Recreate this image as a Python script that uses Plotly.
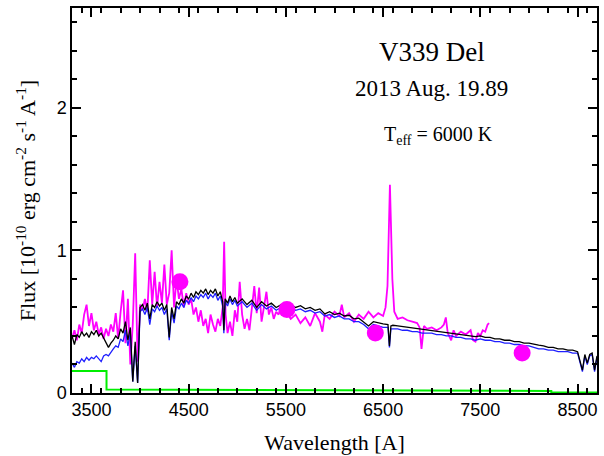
import plotly.graph_objects as go

# model spectra (black: Teff=6000 K model, blue: second model), shared wavelength grid
model_wl = [
    3300, 3325, 3350, 3375, 3400, 3425, 3450, 3475, 3500, 3525, 3550, 3575, 3600, 3625,
    3650, 3675, 3700, 3725, 3750, 3775, 3800, 3825, 3850, 3875, 3900, 3925, 3950, 3975,
    4000, 4025, 4050, 4075, 4100, 4125, 4150, 4175, 4200, 4225, 4250, 4275, 4300, 4325,
    4350, 4375, 4400, 4425, 4450, 4475, 4500, 4525, 4550, 4575, 4600, 4625, 4650, 4675,
    4700, 4725, 4750, 4775, 4800, 4825, 4850, 4862, 4875, 4900, 4925, 4950, 4975, 5000,
    5050, 5100, 5150, 5200, 5250, 5300, 5350, 5400, 5450, 5500, 5550, 5600, 5650, 5700,
    5750, 5800, 5850, 5900, 5950, 6000, 6050, 6100, 6150, 6200, 6250, 6300, 6350, 6400,
    6450, 6500, 6550, 6565, 6580, 6600, 6650, 6700, 6750, 6800, 6850, 6900, 6950, 7000,
    7050, 7100, 7150, 7200, 7250, 7300, 7350, 7400, 7450, 7500, 7550, 7600, 7650, 7700,
    7750, 7800, 7850, 7900, 7950, 8000, 8050, 8100, 8150, 8200, 8250, 8300, 8350, 8400,
    8450, 8500, 8550, 8575, 8600, 8625, 8650, 8675, 8700,
]
model_black = [
    0.40, 0.34, 0.41, 0.39, 0.43, 0.40, 0.42, 0.39, 0.43, 0.41, 0.44, 0.40, 0.42, 0.39,
    0.36, 0.32, 0.35, 0.37, 0.40, 0.38, 0.45, 0.42, 0.50, 0.37, 0.46, 0.08, 0.36, 0.07,
    0.60, 0.62, 0.58, 0.63, 0.52, 0.62, 0.60, 0.64, 0.61, 0.63, 0.58, 0.62, 0.39, 0.60,
    0.52, 0.64, 0.62, 0.66, 0.63, 0.68, 0.66, 0.70, 0.67, 0.71, 0.69, 0.72, 0.70, 0.73,
    0.69, 0.72, 0.70, 0.73, 0.68, 0.71, 0.64, 0.44, 0.66, 0.63, 0.68, 0.64, 0.67, 0.63,
    0.66, 0.62, 0.65, 0.60, 0.64, 0.61, 0.63, 0.60, 0.62, 0.61, 0.62, 0.60, 0.612, 0.59,
    0.60, 0.58, 0.59, 0.555, 0.57, 0.55, 0.56, 0.54, 0.545, 0.52, 0.525, 0.50, 0.47, 0.50,
    0.49, 0.485, 0.48, 0.33, 0.47, 0.475, 0.47, 0.465, 0.46, 0.455, 0.45, 0.445, 0.44, 0.44,
    0.435, 0.43, 0.425, 0.42, 0.415, 0.41, 0.405, 0.40, 0.395, 0.40, 0.39, 0.39, 0.38, 0.38,
    0.37, 0.37, 0.36, 0.36, 0.35, 0.35, 0.34, 0.335, 0.33, 0.32, 0.32, 0.31, 0.31, 0.30,
    0.30, 0.29, 0.16, 0.27, 0.21, 0.27, 0.28, 0.16, 0.26,
]
model_blue = [
    0.21, 0.18, 0.22, 0.21, 0.24, 0.22, 0.25, 0.23, 0.25, 0.24, 0.26, 0.24, 0.22, 0.26,
    0.27, 0.26, 0.29, 0.31, 0.33, 0.32, 0.38, 0.36, 0.44, 0.33, 0.42, 0.08, 0.33, 0.07,
    0.57, 0.59, 0.55, 0.60, 0.48, 0.59, 0.57, 0.61, 0.58, 0.60, 0.55, 0.59, 0.37, 0.57,
    0.49, 0.61, 0.59, 0.63, 0.60, 0.65, 0.63, 0.67, 0.64, 0.68, 0.66, 0.69, 0.67, 0.70,
    0.66, 0.69, 0.67, 0.70, 0.65, 0.68, 0.61, 0.42, 0.64, 0.61, 0.66, 0.62, 0.65, 0.61,
    0.64, 0.60, 0.63, 0.58, 0.62, 0.59, 0.61, 0.58, 0.60, 0.59, 0.60, 0.58, 0.59, 0.57,
    0.58, 0.56, 0.57, 0.54, 0.55, 0.53, 0.54, 0.52, 0.52, 0.50, 0.50, 0.48, 0.45, 0.48,
    0.47, 0.46, 0.46, 0.32, 0.45, 0.45, 0.45, 0.44, 0.44, 0.43, 0.43, 0.42, 0.42, 0.42,
    0.41, 0.41, 0.40, 0.40, 0.39, 0.39, 0.38, 0.38, 0.37, 0.38, 0.37, 0.37, 0.36, 0.36,
    0.35, 0.35, 0.34, 0.34, 0.33, 0.33, 0.32, 0.31, 0.31, 0.30, 0.30, 0.29, 0.29, 0.29,
    0.28, 0.28, 0.15, 0.26, 0.20, 0.26, 0.27, 0.15, 0.25,
]

# observed spectrum (magenta)
obs_wl = [
    3300, 3325, 3350, 3375, 3400, 3425, 3450, 3475, 3500, 3525, 3550, 3575, 3600, 3625,
    3650, 3675, 3700, 3725, 3750, 3775, 3800, 3825, 3850, 3875, 3900, 3925, 3950, 3975,
    4000, 4025, 4050, 4075, 4100, 4125, 4150, 4175, 4200, 4225, 4250, 4275, 4300, 4325,
    4350, 4375, 4400, 4425, 4450, 4475, 4500, 4525, 4550, 4575, 4600, 4625, 4650, 4675,
    4700, 4725, 4750, 4775, 4800, 4825, 4850, 4865, 4880, 4900, 4925, 4950, 4975, 5000,
    5025, 5050, 5075, 5100, 5125, 5150, 5175, 5200, 5225, 5250, 5275, 5300, 5325, 5350,
    5375, 5400, 5425, 5450, 5500, 5550, 5600, 5650, 5700, 5750, 5800, 5850, 5875, 5900,
    5950, 6000, 6050, 6075, 6100, 6150, 6200, 6250, 6300, 6350, 6400, 6450, 6500, 6525,
    6545, 6560, 6570, 6580, 6595, 6615, 6650, 6700, 6750, 6800, 6850, 6875, 6895, 6920,
    6950, 7000, 7050, 7100, 7125, 7145, 7165, 7200, 7225, 7250, 7300, 7350, 7400, 7425,
    7450, 7475, 7500, 7525, 7550, 7575, 7590,
]
obs_flux = [
    0.38, 0.44, 0.37, 0.48, 0.42, 0.55, 0.62, 0.47, 0.56, 0.44, 0.50, 0.41, 0.46, 0.38,
    0.45, 0.40, 0.48, 0.43, 0.56, 0.38, 0.57, 0.72, 0.35, 0.66, 0.20, 0.48, 0.98, 0.22,
    0.62, 0.58, 0.66, 0.57, 0.93, 0.62, 0.85, 0.60, 0.78, 0.63, 0.90, 0.62, 0.70, 1.00,
    0.60, 0.80, 0.66, 0.73, 0.60, 0.70, 0.62, 0.66, 0.55, 0.60, 0.50, 0.58, 0.47, 0.52,
    0.42, 0.55, 0.48, 0.43, 0.52, 0.47, 0.60, 1.06, 0.55, 0.42, 0.50, 0.40, 0.58, 0.50,
    0.78, 0.55, 0.45, 0.52, 0.44, 0.60, 0.75, 0.56, 0.74, 0.50, 0.62, 0.71, 0.55, 0.60,
    0.52, 0.57, 0.55, 0.60, 0.57, 0.52, 0.55, 0.49, 0.53, 0.47, 0.56, 0.50, 0.43, 0.55,
    0.52, 0.57, 0.54, 0.62, 0.53, 0.56, 0.50, 0.55, 0.52, 0.57, 0.53, 0.56, 0.54, 0.60,
    0.75, 1.20, 1.46, 1.20, 0.80, 0.57, 0.52, 0.53, 0.51, 0.50, 0.49, 0.46, 0.31, 0.47,
    0.45, 0.46, 0.44, 0.46, 0.48, 0.53, 0.42, 0.37, 0.44, 0.40, 0.43, 0.41, 0.44, 0.37,
    0.36, 0.42, 0.40, 0.44, 0.43, 0.48, 0.49,
]

# broadband photometry (B, V, Rc, Ic)
phot_wl = [4410, 5510, 6420, 7930]
phot_flux = [0.78, 0.585, 0.42, 0.28]

# green step curve
green_wl = [3300, 3655, 3655, 4500, 6000, 8230, 8230, 8700]
green_flux = [0.155, 0.155, 0.025, 0.022, 0.018, 0.014, 0.003, 0.003]

SERIF = "Times New Roman"
SANS = "Arial"

fig = go.Figure()

fig.add_trace(go.Scatter(x=obs_wl, y=obs_flux, mode="lines",
                         line=dict(color="#ff00ff", width=1.8)))
fig.add_trace(go.Scatter(x=model_wl, y=model_blue, mode="lines",
                         line=dict(color="#1f1fff", width=1.3)))
fig.add_trace(go.Scatter(x=model_wl, y=model_black, mode="lines",
                         line=dict(color="black", width=1.3)))
fig.add_trace(go.Scatter(x=phot_wl, y=phot_flux, mode="markers",
                         marker=dict(color="#ff00ff", size=17)))
fig.add_trace(go.Scatter(x=green_wl, y=green_flux, mode="lines",
                         line=dict(color="#00ee00", width=2)))

fig.update_xaxes(
    range=[3300, 8700], dtick=1000, tick0=3500,
    showline=True, linecolor="black", linewidth=1.5, mirror="allticks",
    ticks="inside", ticklen=9, tickwidth=1.5, tickcolor="black",
    showgrid=False, zeroline=False,
    minor=dict(dtick=200, ticks="inside", ticklen=5),
    title=dict(text="Wavelength [A]", font=dict(family=SERIF, size=22, color="black")),
)
fig.update_yaxes(
    range=[0, 2.7], dtick=1, tick0=0,
    showline=True, linecolor="black", linewidth=1.5, mirror="allticks",
    ticks="inside", ticklen=9, tickwidth=1.5, tickcolor="black",
    showgrid=False, zeroline=False,
    minor=dict(dtick=0.2, ticks="inside", ticklen=5),
    title=dict(text="Flux [10<sup>-10</sup> erg cm<sup>-2</sup> s<sup>-1</sup> A<sup>-1</sup>]",
               font=dict(family=SERIF, size=22, color="black")),
)

text_style = dict(xref="paper", yref="paper", showarrow=False,
                  xanchor="center", yanchor="middle")
fig.add_annotation(x=0.685, y=0.887, text="V339 Del",
                   font=dict(family=SERIF, size=27, color="black"), **text_style)
fig.add_annotation(x=0.685, y=0.791, text="2013 Aug. 19.89",
                   font=dict(family=SERIF, size=23, color="black"), **text_style)
fig.add_annotation(x=0.698, y=0.668, text="T<sub>eff</sub> = 6000 K",
                   font=dict(family=SERIF, size=20, color="black"), **text_style)

fig.update_layout(
    width=604, height=456,
    margin=dict(l=72, r=5, t=8, b=63),
    font=dict(family=SANS, size=18, color="black"),
    paper_bgcolor="white", plot_bgcolor="white",
    showlegend=False,
)

fig.write_html("out.html", config={"displayModeBar": False},
               post_script="document.body.style.margin='0';")
